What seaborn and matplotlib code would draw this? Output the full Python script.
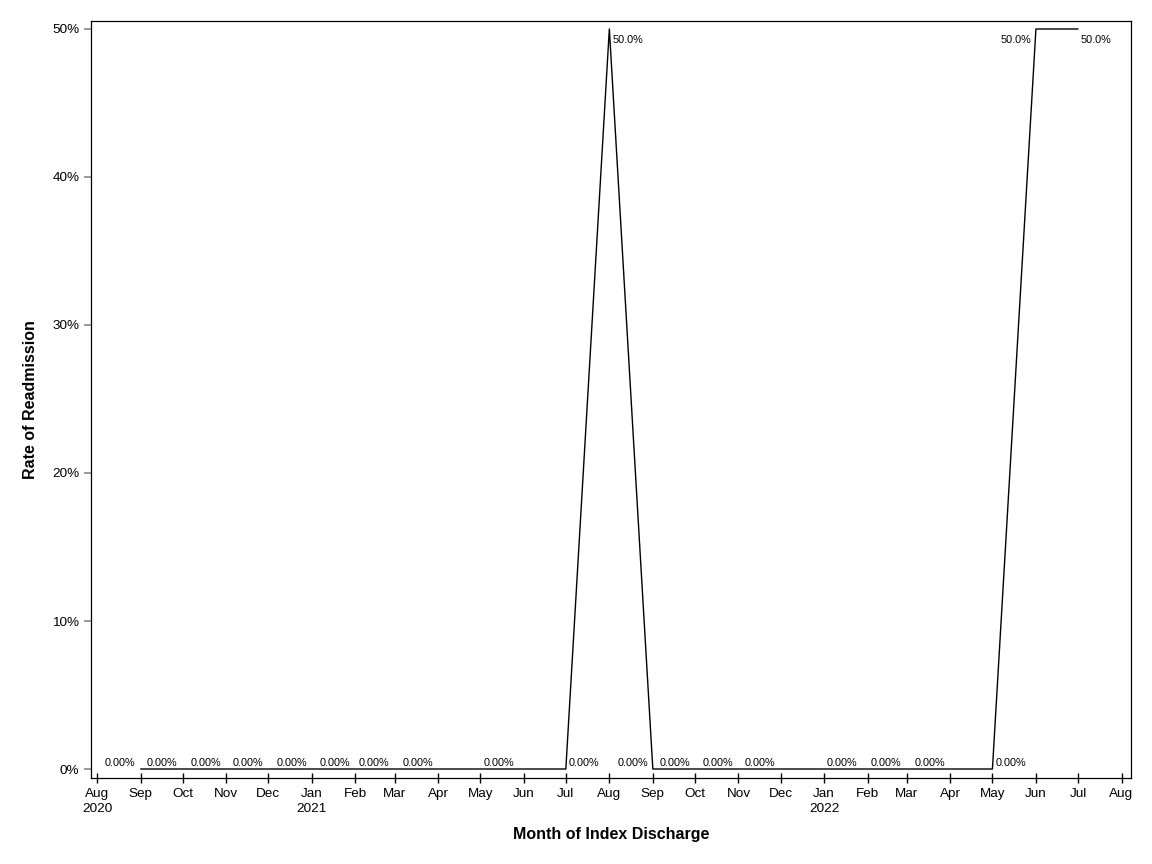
import matplotlib
matplotlib.use("Agg")
import matplotlib.pyplot as plt
import matplotlib.dates as mdates
from matplotlib.ticker import PercentFormatter, FixedLocator
import seaborn as sns
import pandas as pd

# ---- data ----
months = ["2020-09", "2020-10", "2020-11", "2020-12", "2021-01", "2021-02",
          "2021-03", "2021-04", "2021-05", "2021-07", "2021-08", "2021-09",
          "2021-10", "2021-11", "2021-12", "2022-01", "2022-02", "2022-04",
          "2022-05", "2022-06", "2022-07"]
rates = [0, 0, 0, 0, 0, 0, 0, 0, 0, 0, 50, 0, 0, 0, 0, 0, 0, 0, 0, 50, 50]
point_labels = ["0.00%"] * 10 + ["50.0%"] + ["0.00%"] * 8 + ["50.0%", "50.0%"]
label_side = ["L", "L", "L", "L", "L", "L", "L", "L", "R", "R", "R", "L",
              "L", "L", "L", "R", "R", "L", "R", "L", "R"]

tick_months = pd.date_range("2020-08-01", "2022-08-01", freq="MS")
year_on = {"2020-08": "2020", "2021-01": "2021", "2022-01": "2022"}

df = pd.DataFrame({"month": pd.to_datetime(months), "rate": rates})

sns.set_theme(style="ticks")
plt.rcParams["font.family"] = ["Liberation Sans", "DejaVu Sans"]
plt.rcParams["text.color"] = "black"
plt.rcParams["axes.labelcolor"] = "black"
plt.rcParams["xtick.color"] = "black"
plt.rcParams["ytick.color"] = "black"

fig = plt.figure(figsize=(11.52, 8.64), dpi=100)
ax = fig.add_axes([0.0786, 0.0995, 0.9036, 0.8762])

sns.lineplot(data=df, x="month", y="rate", color="black", linewidth=1.0, ax=ax)

for d, v, t, s in zip(df["month"], df["rate"], point_labels, label_side):
    dx = -3.6 if s == "L" else 2.2
    dy = 2.4 if v == 0 else -10.0
    ax.annotate(t, (d, v), xytext=(dx, dy), textcoords="offset points",
                ha="right" if s == "L" else "left", va="baseline",
                fontsize=7.8, color="black")

ax.set_xlim(pd.Timestamp("2020-08-01") - pd.Timedelta(days=4.7),
            pd.Timestamp("2022-08-01") + pd.Timedelta(days=7.1))
ax.set_ylim(-0.61, 50.54)

ax.xaxis.set_major_locator(FixedLocator(mdates.date2num(tick_months)))
xt_labels = []
for m in tick_months:
    key = m.strftime("%Y-%m")
    lab = m.strftime("%b")
    if key in year_on:
        lab += "\n" + year_on[key]
    xt_labels.append(lab)
ax.set_xticklabels(xt_labels)
for lbl in ax.get_xticklabels():
    lbl.set_linespacing(1.35)

ax.set_yticks([0, 10, 20, 30, 40, 50])
ax.yaxis.set_major_formatter(PercentFormatter(decimals=0))

ax.tick_params(axis="x", direction="inout", length=7, width=1, color="black",
               labelsize=9.7, pad=3.5, labelcolor="black")
ax.tick_params(axis="y", direction="out", length=5, width=1.2, color="#888888",
               labelsize=9.7, pad=3, labelcolor="black")

for sp in ax.spines.values():
    sp.set_visible(True)
    sp.set_color("black")
    sp.set_linewidth(0.9)

ax.set_xlabel("Month of Index Discharge", fontsize=11.5, fontweight="bold",
              color="black")
ax.set_ylabel("Rate of Readmission", fontsize=11.5, fontweight="bold",
              color="black")
ax.xaxis.set_label_coords(0.5, -0.074)
ax.xaxis.label.set_verticalalignment("center")
ax.yaxis.set_label_coords(-0.0581, 0.5)
ax.yaxis.label.set_verticalalignment("center")

fig.savefig("out.png", dpi=100)
